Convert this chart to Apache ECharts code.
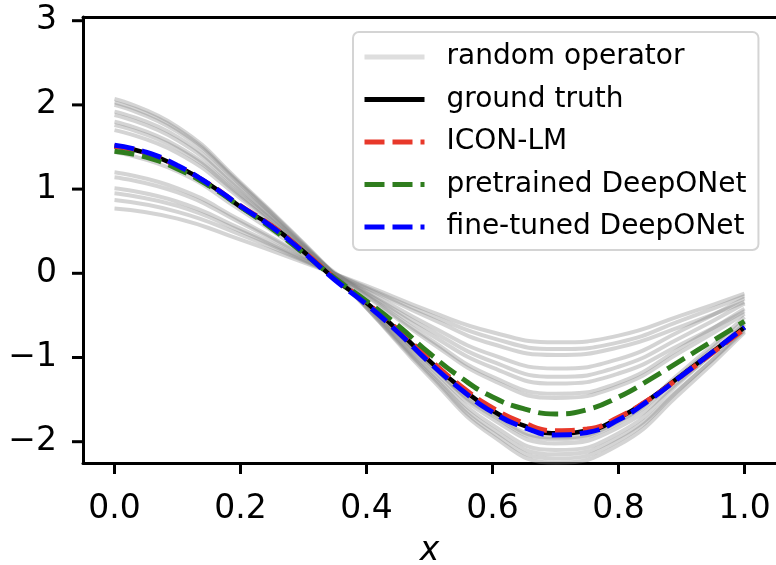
<!DOCTYPE html>
<html>
<head>
<meta charset="utf-8">
<script src="https://cdn.jsdelivr.net/npm/echarts@6/dist/echarts.min.js"></script>
<style>
  html, body { margin: 0; padding: 0; background: #fff; }
  #chart { width: 776px; height: 565px; }
</style>
</head>
<body>
<div id="chart"></div>
<script>
// x samples
var xFine = [0, 0.05, 0.1, 0.15, 0.2, 0.25, 0.3, 0.35, 0.4, 0.45, 0.5,
             0.55, 0.6, 0.65, 0.7, 0.75, 0.8, 0.85, 0.9, 0.95, 1.0];
var xCoarse = [0, 0.1, 0.2, 0.3, 0.4, 0.5, 0.6, 0.7, 0.8, 0.9, 1.0];

// solution curves
var groundTruth = [1.51, 1.43, 1.27, 1.06, 0.79, 0.56, 0.26, -0.07, -0.35, -0.68, -1.04,
                   -1.36, -1.63, -1.81, -1.90, -1.87, -1.72, -1.49, -1.21, -0.93, -0.64];
var iconLM = [1.51, 1.43, 1.27, 1.06, 0.80, 0.56, 0.26, -0.06, -0.35, -0.67, -1.02,
              -1.34, -1.60, -1.78, -1.87, -1.85, -1.71, -1.49, -1.22, -0.94, -0.66];
var pretrained = [1.45, 1.38, 1.24, 1.04, 0.79, 0.53, 0.24, -0.06, -0.33, -0.62, -0.95,
                  -1.24, -1.47, -1.61, -1.67, -1.62, -1.47, -1.26, -1.03, -0.80, -0.57];
var fineTuned = [1.52, 1.44, 1.28, 1.06, 0.80, 0.55, 0.25, -0.08, -0.37, -0.70, -1.06,
                 -1.38, -1.65, -1.83, -1.92, -1.89, -1.74, -1.50, -1.22, -0.93, -0.64];

// random operator curves, on xCoarse
var randomOps = [
  [2.07, 1.74, 1.08, 0.36, -0.41, -1.23, -1.93, -2.25, -2.04, -1.41, -0.70],
  [2.03, 1.71, 1.06, 0.35, -0.41, -1.20, -1.89, -2.20, -1.99, -1.36, -0.66],
  [2.00, 1.68, 1.05, 0.34, -0.40, -1.18, -1.85, -2.15, -1.95, -1.35, -0.68],
  [1.92, 1.62, 1.00, 0.33, -0.39, -1.15, -1.80, -2.10, -1.90, -1.28, -0.60],
  [1.88, 1.58, 0.98, 0.32, -0.37, -1.11, -1.73, -2.02, -1.83, -1.26, -0.62],
  [1.80, 1.51, 0.94, 0.31, -0.36, -1.08, -1.69, -1.97, -1.78, -1.20, -0.56],
  [1.76, 1.48, 0.92, 0.30, -0.36, -1.07, -1.67, -1.95, -1.76, -1.17, -0.52],
  [1.70, 1.43, 0.89, 0.29, -0.27, -0.81, -1.27, -1.48, -1.34, -0.93, -0.48],
  [1.44, 1.21, 0.75, 0.25, -0.26, -0.78, -1.23, -1.43, -1.30, -0.88, -0.42],
  [1.20, 1.01, 0.63, 0.21, -0.24, -0.72, -1.12, -1.31, -1.19, -0.84, -0.45],
  [1.14, 0.96, 0.60, 0.20, -0.23, -0.67, -1.05, -1.23, -1.11, -0.76, -0.36],
  [1.01, 0.85, 0.53, 0.17, -0.21, -0.62, -0.97, -1.13, -1.02, -0.68, -0.30],
  [0.95, 0.80, 0.50, 0.16, -0.18, -0.53, -0.84, -0.97, -0.88, -0.63, -0.34],
  [0.87, 0.73, 0.46, 0.15, -0.17, -0.49, -0.77, -0.90, -0.82, -0.56, -0.27],
  [0.77, 0.65, 0.40, 0.13, -0.15, -0.45, -0.70, -0.82, -0.74, -0.50, -0.24]
];

var legendNames = ['random operator', 'ground truth', 'ICON-LM',
                   'pretrained DeepONet', 'fine-tuned DeepONet'];
var xTicks = [0, 0.2, 0.4, 0.6, 0.8, 1.0];
var yTicks = [-2, -1, 0, 1, 2, 3];
var xRange = [-0.05, 1.05];
var yRange = [-2.253, 3.044];

function pairs(xs, ys) {
  return xs.map(function (x, i) { return [x, ys[i]]; });
}

var FONT = 'DejaVu Sans';
var DASH = [20, 8];
var TICK_LEN = 11;
var series = [];

randomOps.forEach(function (ys) {
  series.push({
    name: legendNames[0], type: 'line', data: pairs(xCoarse, ys),
    smooth: 0.5, symbol: 'none', silent: true, z: 1,
    lineStyle: { color: 'rgba(128,128,128,0.34)', width: 4 }
  });
});

series.push({
  name: legendNames[1], type: 'line', data: pairs(xFine, groundTruth),
  smooth: 0.5, symbol: 'none', z: 2,
  lineStyle: { color: '#000', width: 4.5 }
});

var dashed = [
  [legendNames[2], iconLM, '#e8382a'],
  [legendNames[3], pretrained, '#2f7d1e'],
  [legendNames[4], fineTuned, '#0000ff']
];
dashed.forEach(function (d, i) {
  series.push({
    name: d[0], type: 'line', data: pairs(xFine, d[1]),
    smooth: 0.5, symbol: 'none', z: 3 + i,
    lineStyle: { color: d[2], width: 5, type: DASH, cap: 'butt' }
  });
});

// outward tick marks, placed through the axis scales
series.push({
  type: 'custom', silent: true, clip: false, z: 10,
  data: xTicks.map(function (v) { return [v, yRange[0]]; }),
  renderItem: function (params, api) {
    var p = api.coord([api.value(0), api.value(1)]);
    return { type: 'line', shape: { x1: p[0], y1: p[1], x2: p[0], y2: p[1] + TICK_LEN },
             style: { stroke: '#000', lineWidth: 3 } };
  }
});
series.push({
  type: 'custom', silent: true, clip: false, z: 10,
  data: yTicks.map(function (v) { return [xRange[0], v]; }),
  renderItem: function (params, api) {
    var p = api.coord([api.value(0), api.value(1)]);
    return { type: 'line', shape: { x1: p[0] - TICK_LEN, y1: p[1], x2: p[0], y2: p[1] },
             style: { stroke: '#000', lineWidth: 3 } };
  }
});

var chart = echarts.init(document.getElementById('chart'));
chart.setOption({
  animation: false,
  backgroundColor: '#fff',
  grid: {
    left: 83, top: 17, width: 693, height: 446,
    containLabel: false, outerBoundsMode: 'none'
  },
  legend: {
    data: [
      { name: legendNames[0], lineStyle: { width: 5, color: '#dedede' } },
      { name: legendNames[1], lineStyle: { width: 5 } },
      { name: legendNames[2], lineStyle: { width: 5, type: DASH } },
      { name: legendNames[3], lineStyle: { width: 5, type: DASH } },
      { name: legendNames[4], lineStyle: { width: 5, type: DASH } }
    ],
    orient: 'vertical',
    left: 353, top: 32,
    padding: [10, 12, 8, 9],
    itemWidth: 60, itemHeight: 10, itemGap: 12.5,
    itemStyle: { opacity: 0, borderWidth: 0 },
    backgroundColor: 'rgba(255,255,255,0.8)',
    borderColor: '#d4d4d4', borderWidth: 2, borderRadius: 6,
    textStyle: { fontFamily: FONT, fontSize: 28, color: '#000', lineHeight: 30,
                 padding: [0, 0, 0, 17] }
  },
  xAxis: [{
    type: 'value', min: xRange[0], max: xRange[1], position: 'bottom',
    name: 'x', nameLocation: 'middle', nameGap: 72,
    nameTextStyle: { fontFamily: FONT, fontSize: 33, fontStyle: 'italic', color: '#000' },
    axisLine: { show: true, onZero: false, lineStyle: { color: '#000', width: 3 } },
    splitLine: { show: false },
    axisTick: { show: false },
    axisLabel: { customValues: xTicks, margin: 30, fontFamily: FONT, fontSize: 33,
                 color: '#000', formatter: function (v) { return v.toFixed(1); } }
  }, {
    type: 'value', min: xRange[0], max: xRange[1], position: 'top',
    axisLine: { show: true, onZero: false, lineStyle: { color: '#000', width: 3 } },
    axisTick: { show: false }, axisLabel: { show: false }, splitLine: { show: false }
  }],
  yAxis: {
    type: 'value', min: yRange[0], max: yRange[1], position: 'left',
    axisLine: { show: true, onZero: false, lineStyle: { color: '#000', width: 3 } },
    splitLine: { show: false },
    axisTick: { show: false },
    axisLabel: { customValues: yTicks, margin: 26, fontFamily: FONT, fontSize: 33,
                 color: '#000', formatter: function (v) { return String(v).replace('-', '\u2212'); } }
  },
  series: series
});
</script>
</body>
</html>
